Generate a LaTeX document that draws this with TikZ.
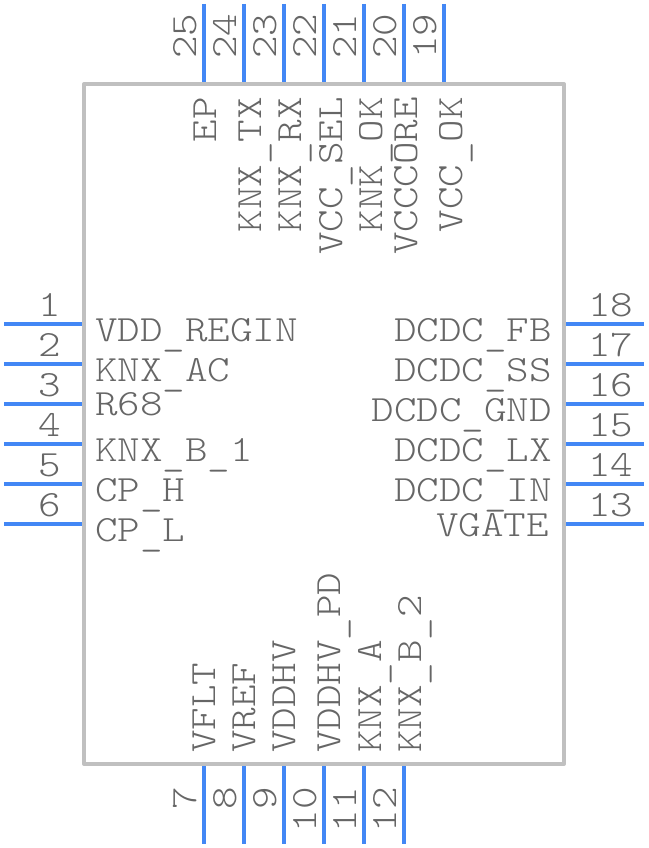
\documentclass[tikz,border=0pt]{standalone}
\usepackage{fontspec}
\newfontfamily\pinfont[FakeStretch=1.16]{Latin Modern Mono Light}
\newcommand{\us}{\raisebox{-4.5pt}{\_}}
\definecolor{bodygray}{HTML}{C0C0C0}
\definecolor{pinblue}{HTML}{4287F5}
\definecolor{labelgray}{HTML}{666666}
\tikzset{
    pinline/.style={pinblue, line width=4pt},
    txt/.style={labelgray, inner sep=0pt, font=\pinfont\fontsize{37}{37}\selectfont},
    lab/.style={txt, anchor=base west},
    labr/.style={txt, anchor=base east},
    labup/.style={txt, anchor=base west, rotate=90},
    labdown/.style={txt, anchor=base east, rotate=90}
}

\begin{document}
\begin{tikzpicture}[x=1pt, y=-1pt, line join = round]
    \useasboundingbox (0,0) rectangle (648,848);
    \draw[bodygray, line width=4pt] (84,84) rectangle (564,764);

    % left side
    \draw[pinline] (4,324) -- (82,324);
    \draw[pinline] (4,364) -- (82,364);
    \draw[pinline] (4,404) -- (82,404);
    \draw[pinline] (4,444) -- (82,444);
    \draw[pinline] (4,484) -- (82,484);
    \draw[pinline] (4,524) -- (82,524);
    \node[labr] (num1) at (61,316) {1};
    \node[labr] (num2) at (61,356) {2};
    \node[labr] (num3) at (61,396) {3};
    \node[labr] (num4) at (61,436) {4};
    \node[labr] (num5) at (61,476) {5};
    \node[labr] (num6) at (61,516) {6};
    \node[lab] (vddregin) at (95,341) {VDD\us REGIN};
    \node[lab] (knxac) at (95,381) {KNX\us AC};
    \node[lab] (r68) at (95,415) {R68};
    \node[lab] (knxb1) at (95,461) {KNX\us B\us 1};
    \node[lab] (cph) at (95,501) {CP\us H};
    \node[lab] (cpl) at (95,541) {CP\us L};

    % bottom side
    \draw[pinline] (204,766) -- (204,844);
    \draw[pinline] (244,766) -- (244,844);
    \draw[pinline] (284,766) -- (284,844);
    \draw[pinline] (324,766) -- (324,844);
    \draw[pinline] (364,766) -- (364,844);
    \draw[pinline] (404,766) -- (404,844);
    \node[labdown] (num7) at (196,787) {7};
    \node[labdown] (num8) at (236,787) {8};
    \node[labdown] (num9) at (276,787) {9};
    \node[labdown] (num10) at (316,787) {10};
    \node[labdown] (num11) at (356,787) {11};
    \node[labdown] (num12) at (396,787) {12};
    \node[labup] (vflt) at (215,753) {VFLT};
    \node[labup] (vref) at (255,753) {VREF};
    \node[labup] (vddhv) at (295,753) {VDDHV};
    \node[labup] (vddhvpd) at (340,753) {VDDHV\us PD};
    \node[labup] (knxa) at (381,753) {KNX\us A};
    \node[labup] (knxb2) at (421,753) {KNX\us B\us 2};

    % right side
    \draw[pinline] (566,524) -- (644,524);
    \draw[pinline] (566,484) -- (644,484);
    \draw[pinline] (566,444) -- (644,444);
    \draw[pinline] (566,404) -- (644,404);
    \draw[pinline] (566,364) -- (644,364);
    \draw[pinline] (566,324) -- (644,324);
    \node[lab] (num13) at (588,516) {13};
    \node[lab] (num14) at (588,476) {14};
    \node[lab] (num15) at (588,436) {15};
    \node[lab] (num16) at (588,396) {16};
    \node[lab] (num17) at (588,356) {17};
    \node[lab] (num18) at (588,316) {18};
    \node[labr] (vgate) at (549,536) {VGATE};
    \node[labr] (dcdcin) at (552,501) {DCDC\us IN};
    \node[labr] (dcdclx) at (552,461) {DCDC\us LX};
    \node[labr] (dcdcgnd) at (552,421) {DCDC\us GND};
    \node[labr] (dcdcss) at (552,381) {DCDC\us SS};
    \node[labr] (dcdcfb) at (552,341) {DCDC\us FB};

    % top side
    \draw[pinline] (444,4) -- (444,82);
    \draw[pinline] (404,4) -- (404,82);
    \draw[pinline] (364,4) -- (364,82);
    \draw[pinline] (324,4) -- (324,82);
    \draw[pinline] (284,4) -- (284,82);
    \draw[pinline] (244,4) -- (244,82);
    \draw[pinline] (204,4) -- (204,82);
    \node[labup] (num19) at (436,59) {19};
    \node[labup] (num20) at (396,59) {20};
    \node[labup] (num21) at (356,59) {21};
    \node[labup] (num22) at (316,59) {22};
    \node[labup] (num23) at (276,59) {23};
    \node[labup] (num24) at (236,59) {24};
    \node[labup] (num25) at (196,59) {25};
    \node[labdown] (vccok) at (462,97) {VCC\us OK};
    \node[labdown] (vcccore) at (417,97) {VCCCORE};
    \node[labdown] (knkok) at (382,97) {KNK\us OK};
    \node[labdown] (vccsel) at (342,97) {VCC\us SEL};
    \node[labdown] (knxrx) at (301,97) {KNX\us RX};
    \node[labdown] (knxtx) at (261,97) {KNX\us TX};
    \node[labdown] (ep) at (216,97) {EP};
\end{tikzpicture}
\end{document}
